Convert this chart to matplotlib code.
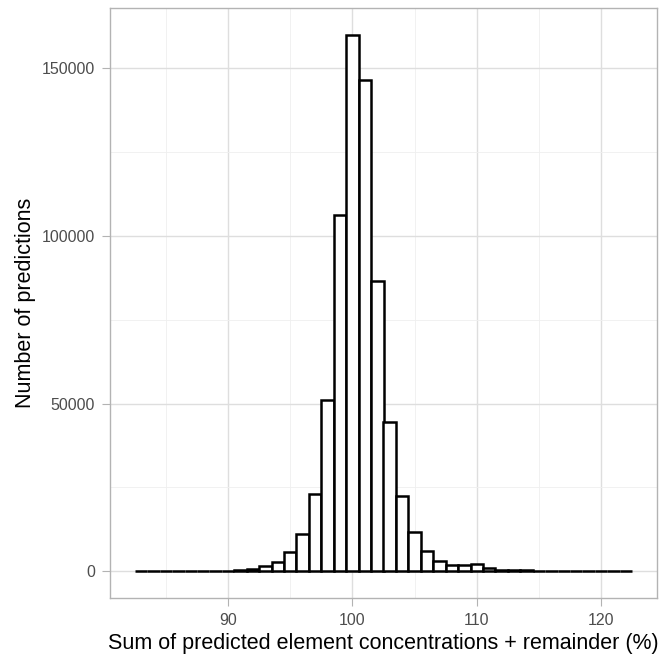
import matplotlib
matplotlib.use("Agg")
import matplotlib.pyplot as plt
import numpy as np

bin_centers = list(range(83, 123))
counts = [20, 20, 30, 40, 60, 80, 120, 200, 400, 800,
          1400, 2800, 5700, 11000, 23000, 51000, 106300, 160000, 146600, 86500,
          44400, 22400, 11600, 5900, 3100, 1700, 1700, 2100, 900, 500,
          350, 250, 200, 150, 120, 100, 80, 60, 40, 30]
x_ticks = [90, 100, 110, 120]
y_ticks = [0, 50000, 100000, 150000]
x_label = "Sum of predicted element concentrations + remainder (%)"
y_label = "Number of predictions"

plt.rcParams['font.family'] = ['Liberation Sans', 'DejaVu Sans']

fig = plt.figure(figsize=(6.61, 6.64), dpi=100)
ax = fig.add_axes([110/661, 1-598/664, (657-110)/661, (598-8)/664])

ax.bar(bin_centers, counts, width=1.0, color='white', edgecolor='black',
       linewidth=1.8, zorder=3)

xmin, xmax = 82.5, 122.5
xr = xmax - xmin
ax.set_xlim(xmin - 0.05*xr, xmax + 0.05*xr)
ymax = max(counts)
ax.set_ylim(-0.05*ymax, ymax*1.05)

ax.set_xticks(x_ticks)
ax.set_xticks([85, 95, 105, 115], minor=True)
ax.set_yticks(y_ticks)
ax.set_yticks([25000, 75000, 125000], minor=True)
ax.set_yticklabels([str(v) for v in y_ticks])

ax.grid(which='major', color='#DEDEDE', linewidth=1.0, zorder=0)
ax.grid(which='minor', color='#EFEFEF', linewidth=0.6, zorder=0)
ax.set_axisbelow(True)

for s in ax.spines.values():
    s.set_color('#B3B3B3')
    s.set_linewidth(1.0)

ax.tick_params(which='major', length=6, width=0.8, color='#B3B3B3',
               labelcolor='#4D4D4D', labelsize=11.5, pad=4.8)
ax.tick_params(which='minor', length=0)

ax.set_xlabel(x_label, fontsize=15.5, color='black', labelpad=3.3)
ax.set_ylabel(y_label, fontsize=15.5, color='black', labelpad=4)

fig.savefig("out.png", dpi=100)
